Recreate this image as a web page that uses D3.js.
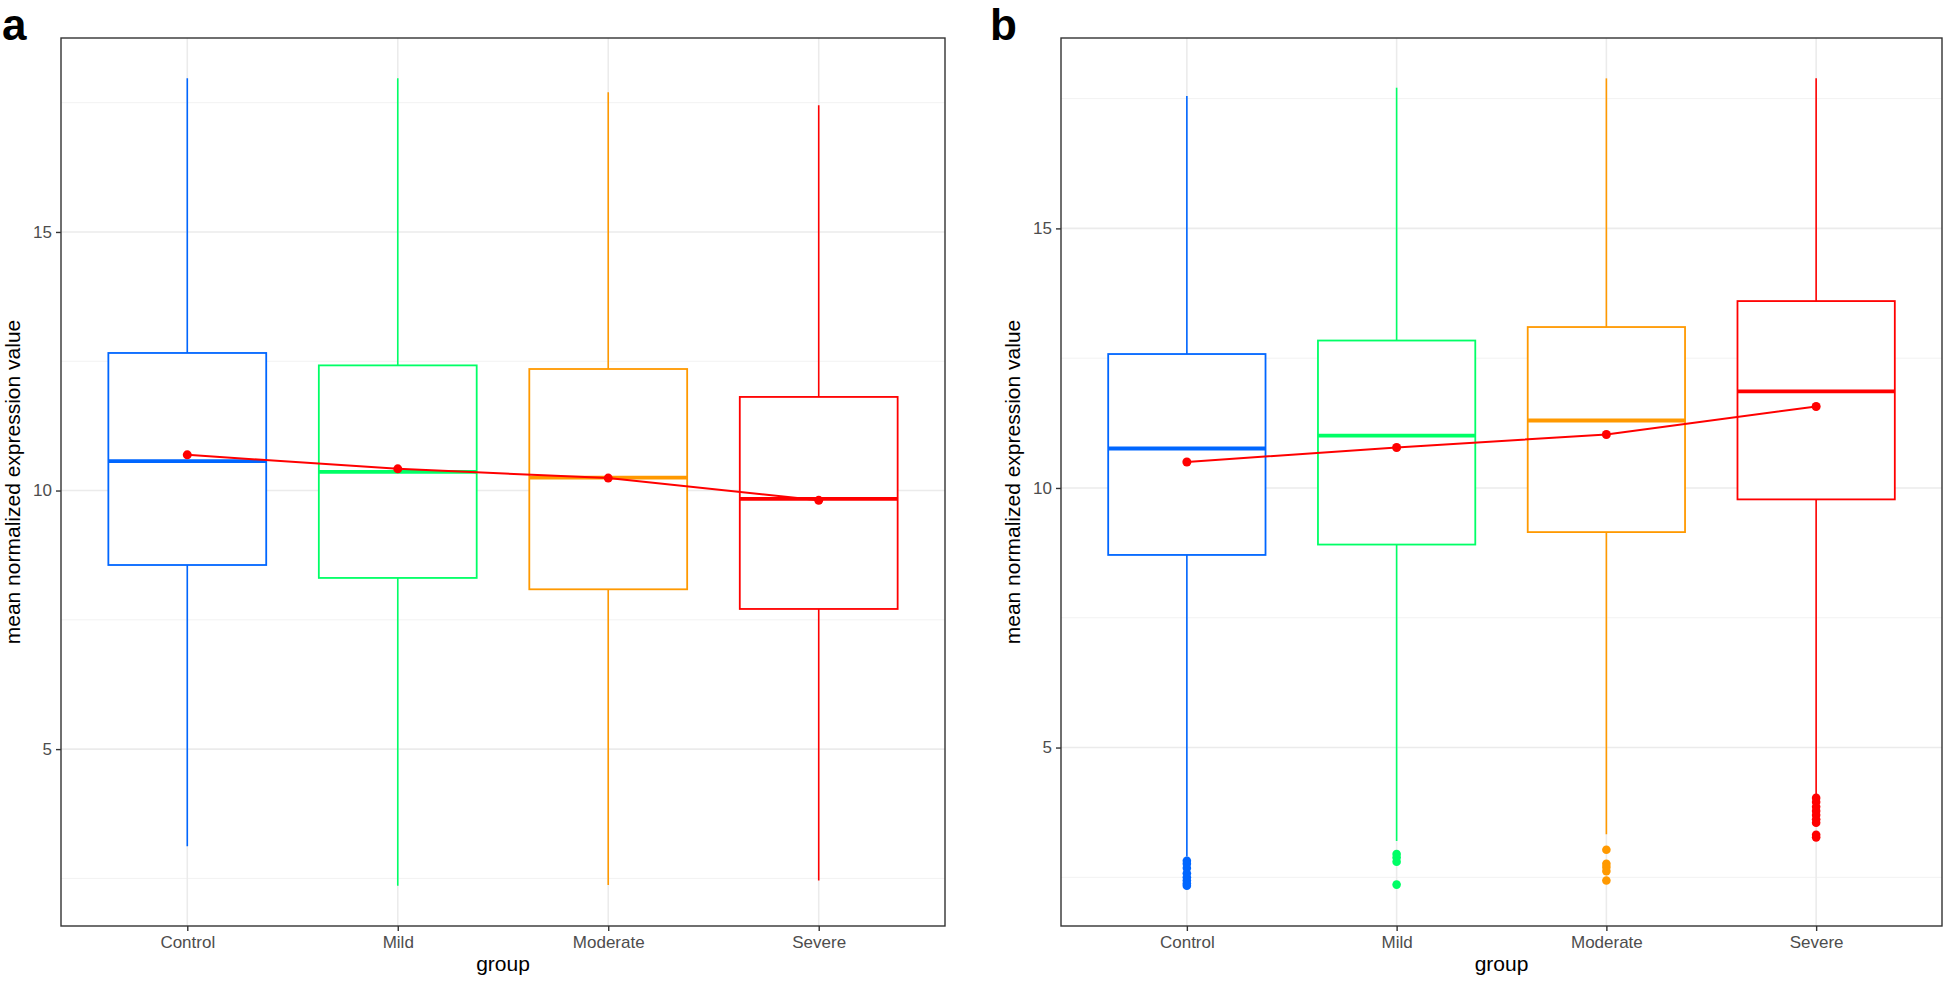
<!DOCTYPE html>
<html>
<head>
<meta charset="utf-8">
<script src="https://cdn.jsdelivr.net/npm/d3@7"></script>
<style>
  html, body { margin: 0; padding: 0; background: #ffffff; }
  svg { display: block; }
  text { font-family: "Liberation Sans", Arial, sans-serif; }
</style>
</head>
<body>
<svg id="chart" width="1946" height="981"></svg>
<script>
// ---------- data ----------
const categories = ["Control", "Mild", "Moderate", "Severe"];
const colors = ["#0066FF", "#00FF66", "#FF9900", "#FF0000"];
const yTicks = [5, 10, 15];
const yMinorTicks = [2.5, 7.5, 12.5, 17.5];

// panel a
const aWhiskerLow  = [3.12, 2.36, 2.37, 2.46];
const aQ1          = [8.56, 8.31, 8.09, 7.71];
const aMedian      = [10.57, 10.36, 10.25, 9.84];
const aQ3          = [12.66, 12.42, 12.35, 11.81];
const aWhiskerHigh = [17.97, 17.97, 17.70, 17.45];
const aMean        = [10.69, 10.42, 10.24, 9.81];
const aOutliers    = [[], [], [], []];

// panel b
const bWhiskerLow  = [2.90, 3.20, 3.33, 4.10];
const bQ1          = [8.71, 8.91, 9.15, 9.78];
const bMedian      = [10.76, 11.01, 11.30, 11.86];
const bQ3          = [12.58, 12.84, 13.10, 13.60];
const bWhiskerHigh = [17.55, 17.71, 17.89, 17.89];
const bMean        = [10.50, 10.78, 11.03, 11.57];
const bOutliers    = [
  [2.82, 2.76, 2.68, 2.58, 2.50, 2.44, 2.38, 2.34],
  [2.95, 2.88, 2.80, 2.36],
  [3.03, 2.76, 2.70, 2.62, 2.44],
  [4.03, 3.95, 3.86, 3.78, 3.70, 3.62, 3.55, 3.32, 3.27]
];

const xTitle = "group";
const yTitle = "mean normalized expression value";

// ---------- layout ----------
const svg = d3.select("#chart");
const panels = [
  { tag: "a", left: 61, right: 945, top: 38, bottom: 926, tagX: 2, yTitleX: 13,
    low: aWhiskerLow, q1: aQ1, med: aMedian, q3: aQ3, high: aWhiskerHigh, mean: aMean, out: aOutliers },
  { tag: "b", left: 1061, right: 1942, top: 38, bottom: 926, tagX: 990, yTitleX: 1013,
    low: bWhiskerLow, q1: bQ1, med: bMedian, q3: bQ3, high: bWhiskerHigh, mean: bMean, out: bOutliers }
];

panels.forEach(p => {
  const allVals = [].concat(p.low, p.high, ...p.out);
  const mn = d3.min(allVals), mx = d3.max(allVals);
  const ex = (mx - mn) * 0.05;
  const y = d3.scaleLinear().domain([mn - ex, mx + ex]).range([p.bottom, p.top]);
  const x = d3.scalePoint().domain(categories).range([p.left, p.right]).padding(0.6);
  const step = x.step();
  const boxW = step * 0.75;

  const g = svg.append("g");

  // panel background
  g.append("rect").attr("x", p.left).attr("y", p.top)
    .attr("width", p.right - p.left).attr("height", p.bottom - p.top)
    .attr("fill", "#ffffff");

  // minor grid
  g.selectAll(".minor").data(yMinorTicks.filter(t => t > y.domain()[0] && t < y.domain()[1]))
    .join("line")
    .attr("x1", p.left).attr("x2", p.right)
    .attr("y1", d => y(d)).attr("y2", d => y(d))
    .attr("stroke", "#F2F2F2").attr("stroke-width", 1);

  // major grid horizontal
  g.selectAll(".major").data(yTicks)
    .join("line")
    .attr("x1", p.left).attr("x2", p.right)
    .attr("y1", d => y(d)).attr("y2", d => y(d))
    .attr("stroke", "#EBEBEB").attr("stroke-width", 1.6);

  // major grid vertical
  g.selectAll(".vmajor").data(categories)
    .join("line")
    .attr("x1", d => x(d)).attr("x2", d => x(d))
    .attr("y1", p.top).attr("y2", p.bottom)
    .attr("stroke", "#EBEBEB").attr("stroke-width", 1.6);

  // boxplots
  categories.forEach((c, i) => {
    const cx = x(c);
    const col = colors[i];
    // whiskers
    g.append("line").attr("x1", cx).attr("x2", cx)
      .attr("y1", y(p.q3[i])).attr("y2", y(p.high[i]))
      .attr("stroke", col).attr("stroke-width", 1.6);
    g.append("line").attr("x1", cx).attr("x2", cx)
      .attr("y1", y(p.q1[i])).attr("y2", y(p.low[i]))
      .attr("stroke", col).attr("stroke-width", 1.6);
    // box
    g.append("rect").attr("x", cx - boxW / 2).attr("y", y(p.q3[i]))
      .attr("width", boxW).attr("height", y(p.q1[i]) - y(p.q3[i]))
      .attr("fill", "#ffffff").attr("stroke", col).attr("stroke-width", 1.8);
    // median
    g.append("line").attr("x1", cx - boxW / 2).attr("x2", cx + boxW / 2)
      .attr("y1", y(p.med[i])).attr("y2", y(p.med[i]))
      .attr("stroke", col).attr("stroke-width", 3.8);
    // outliers
    g.selectAll(null).data(p.out[i]).join("circle")
      .attr("cx", cx).attr("cy", d => y(d)).attr("r", 4.3)
      .attr("fill", col);
  });

  // mean line
  const line = d3.line().x((d, i) => x(categories[i])).y(d => y(d));
  g.append("path").datum(p.mean).attr("d", line)
    .attr("fill", "none").attr("stroke", "#FF0000").attr("stroke-width", 2);
  g.selectAll(".meanpt").data(p.mean).join("circle")
    .attr("cx", (d, i) => x(categories[i])).attr("cy", d => y(d)).attr("r", 4.5)
    .attr("fill", "#FF0000");

  // panel border
  g.append("rect").attr("x", p.left).attr("y", p.top)
    .attr("width", p.right - p.left).attr("height", p.bottom - p.top)
    .attr("fill", "none").attr("stroke", "#333333").attr("stroke-width", 1.4);

  // axes
  const yAxis = d3.axisLeft(y).tickValues(yTicks).tickSize(5).tickPadding(4).tickFormat(d3.format("d"));
  const ya = g.append("g").attr("transform", `translate(${p.left},0)`).call(yAxis);
  ya.select(".domain").remove();
  ya.selectAll(".tick line").attr("stroke", "#333333").attr("stroke-width", 1.4);
  ya.selectAll(".tick text").attr("fill", "#4D4D4D").style("font-size", "17px")
    .style("font-family", "Liberation Sans, Arial, sans-serif");

  const xAxis = d3.axisBottom(x).tickSize(5).tickPadding(5);
  const xa = g.append("g").attr("transform", `translate(0,${p.bottom})`).call(xAxis);
  xa.select(".domain").remove();
  xa.selectAll(".tick line").attr("stroke", "#333333").attr("stroke-width", 1.4);
  xa.selectAll(".tick text").attr("fill", "#4D4D4D").style("font-size", "17px")
    .style("font-family", "Liberation Sans, Arial, sans-serif");

  // titles
  g.append("text").attr("x", (p.left + p.right) / 2).attr("y", 971)
    .attr("text-anchor", "middle").attr("fill", "#000000")
    .style("font-size", "21px").text(xTitle);
  g.append("text")
    .attr("transform", `translate(${p.yTitleX + 7},${(p.top + p.bottom) / 2}) rotate(-90)`)
    .attr("text-anchor", "middle").attr("fill", "#000000")
    .style("font-size", "21px").text(yTitle);

  // panel tag
  g.append("text").attr("x", p.tagX).attr("y", 40)
    .attr("fill", "#000000").style("font-size", "44px").style("font-weight", "bold")
    .text(p.tag);
});
</script>
</body>
</html>
